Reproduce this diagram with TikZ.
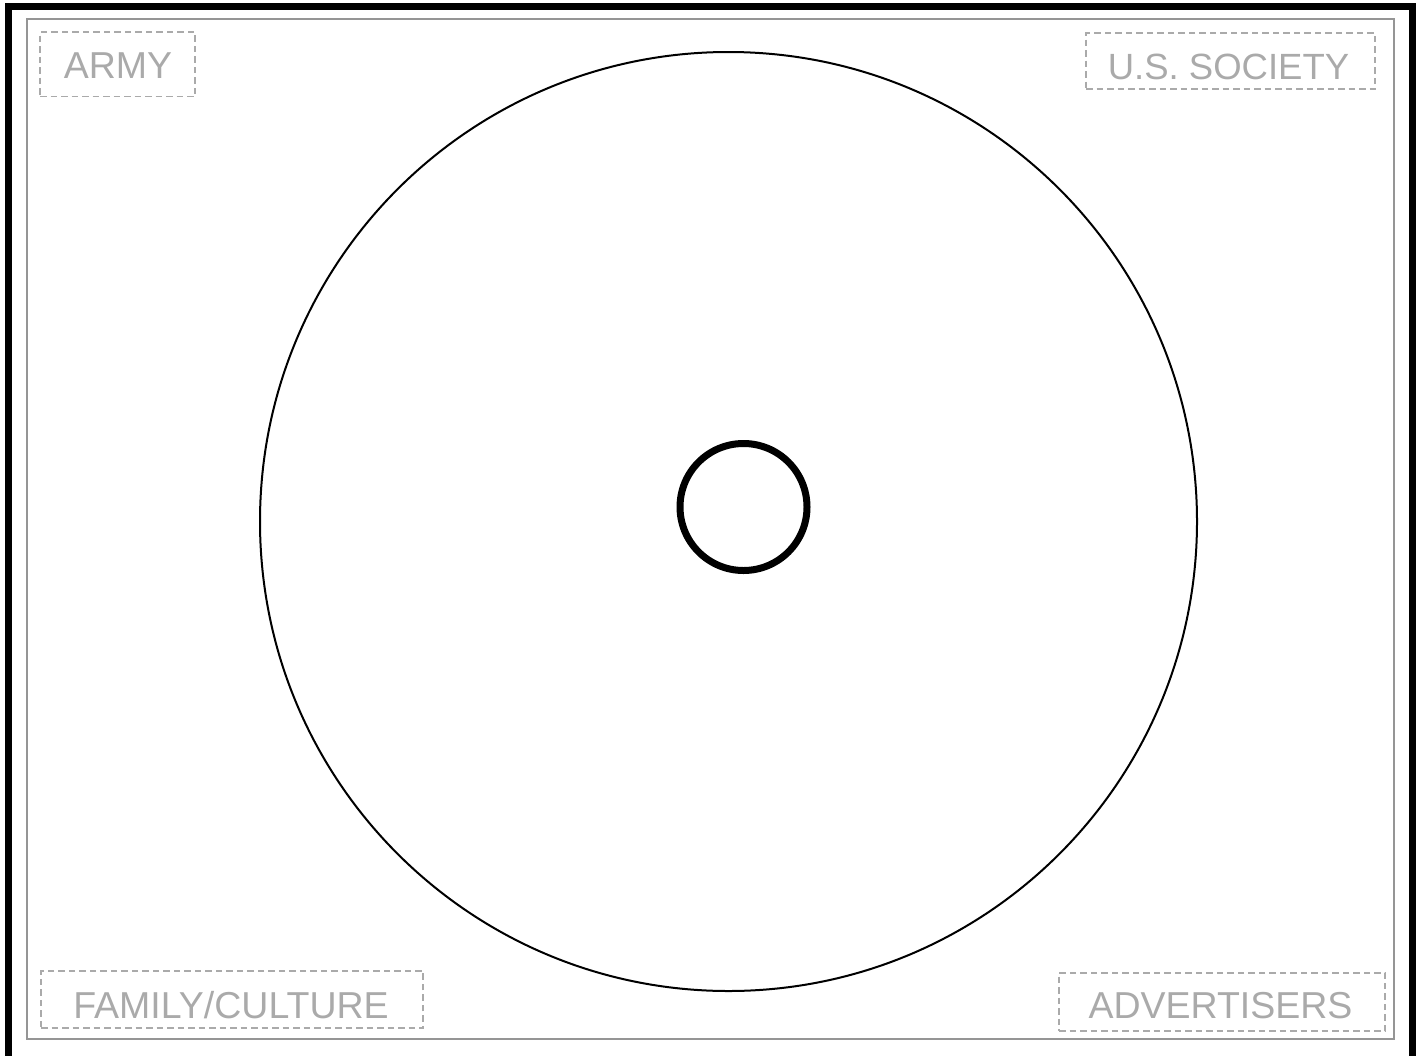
\documentclass[tikz,border=0pt]{standalone}
\usepackage{fontspec}
\setmainfont{Liberation Sans}
\definecolor{labelgray}{HTML}{AAAAAA}
\definecolor{framegray}{HTML}{959595}
\tikzset{
  lblbox/.style={draw=labelgray, dash pattern=on 6.5pt off 4pt, line width=1.9pt,
    inner sep=0pt, rectangle},
  lbltext/.style={text=labelgray, font=\fontsize{37.5}{44}\selectfont, inner sep=0pt, anchor=base},
}
\begin{document}
\begin{tikzpicture}[x=1pt,y=-1pt]
\useasboundingbox (0,0) rectangle (1421,1055);
\clip (0,0) rectangle (1421,1055);
% outer frames
\draw[line width=7pt] (8.5,6.5) rectangle (1412.5,1080);
\draw[framegray, line width=2pt] (27,19) rectangle (1394,1039);
% circles
\draw[line width=2pt] (728.5,521.5) ellipse [x radius=468.5, y radius=469.5];
\node[circle, draw, line width=7pt, minimum size=127pt, inner sep=0pt] (core) at (743.5,507) {};
% label boxes
\node[lblbox, minimum width=155pt, minimum height=64.5pt] (armybox) at (117.5,64.25) {};
\node[lblbox, minimum width=289pt, minimum height=56pt] (societybox) at (1230.5,61) {};
\node[lblbox, minimum width=382pt, minimum height=57.5pt] (familybox) at (232,999.5) {};
\node[lblbox, minimum width=326pt, minimum height=58pt] (advbox) at (1222,1001.7) {};
% label texts
\node[lbltext] (army) at (118,78) {ARMY};
\node[lbltext, font=\fontsize{36.5}{44}\selectfont] (society) at (1228.5,79) {U.S. SOCIETY};
\node[lbltext] (family) at (231,1018) {FAMILY/CULTURE};
\node[lbltext] (adv) at (1220.5,1018.3) {ADVERTISERS};
\end{tikzpicture}
\end{document}
